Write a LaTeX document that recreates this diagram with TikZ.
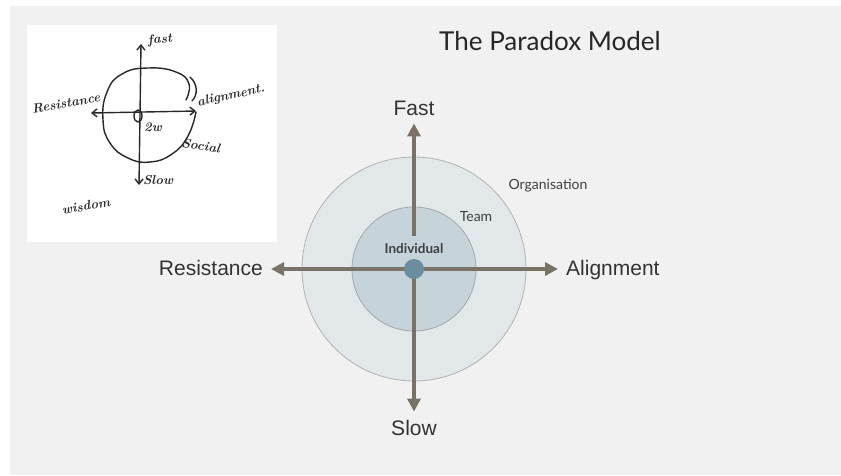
\documentclass[tikz,border=0pt]{standalone}
\usepackage{fontspec}
\setmainfont{Liberation Sans}
\newfontfamily\ringfont{Lato}
\newfontfamily\handfont{Latin Modern Roman}
\usetikzlibrary{arrows.meta}
\definecolor{slide}{RGB}{241,241,241}
\definecolor{axisbrown}{RGB}{122,114,102}
\definecolor{orgring}{RGB}{226,231,234}
\definecolor{teamring}{RGB}{199,211,218}
\definecolor{dotblue}{RGB}{104,142,160}
\definecolor{ink}{RGB}{40,40,40}

\tikzset{
 axis/.style={draw=axisbrown, line width=4pt, -{Triangle[length=13pt,width=13pt]}},
 axislabel/.style={font=\fontsize{21}{21}\selectfont, text=black!80, inner sep=8pt},
 ringlabel/.style={font=\ringfont\fontsize{14}{14}\selectfont, text=black!75, inner sep=0pt},
 sketch/.style={draw=ink, line width=1.4pt, line cap=round, line join=round},
 scribble/.style={font=\handfont\bfseries\itshape\fontsize{13}{13}\selectfont, text=ink, inner sep=0pt}
}

\begin{document}
\begin{tikzpicture}[x=1pt,y=-1pt]
 \path[use as bounding box] (0,0) rectangle (841,475);
\fill[white] (0,0) rectangle (841,475);
\fill[slide] (10,6) rectangle (841,475);
\fill[white] (27,25) rectangle (277,242);

% the sketch
\draw[sketch] plot[smooth, tension=0.8] coordinates {(186,100) (189,84) (176,72) (148,68) (122,74) (107,92) (103,120) (110,143) (128,158) (150,162) (172,154) (188,136) (196,112)};
\draw[sketch] (190,77) .. controls (198,84) and (198,95) .. (192,101);
\draw[sketch, {Straight Barb[length=5pt,width=8pt]}-{Straight Barb[length=5pt,width=8pt]}] (139,185) -- (141,44);
\draw[sketch, {Straight Barb[length=5pt,width=8pt]}-{Straight Barb[length=5pt,width=8pt]}] (91,113) -- (196,111);
\draw[sketch] (138,116) ellipse [x radius=4, y radius=6];
\foreach \pos/\ang/\txt [count=\i] in {(160,40)/5/fast, (66,103)/10/Resistance, (231,96)/12/alignment., (153,127)/0/2w, (201,146)/-8/Social, (158,180)/0/Slow, (86,206)/10/wisdom}
	\node[scribble, rotate=\ang] (scr\i) at \pos {\txt};

% the model
\filldraw[fill=orgring, draw=black!30, line width=0.8pt] (414,269) circle [radius=112];
\filldraw[fill=teamring, draw=black!35, line width=0.8pt] (414,269) circle [radius=62];
\coordinate (ctr) at (414,269);

\node[font=\ringfont\fontsize{26}{26}\selectfont, text=black!85, anchor=base] (title) at (550,50) {The Paradox Model};
\node[axislabel, anchor=base] (fast) at (414,115) {Fast};
\node[axislabel, anchor=base] (slow) at (414,435) {Slow};
\node[axislabel, anchor=base east] (resist) at (271,275) {Resistance};
\node[axislabel, anchor=base west] (align) at (558,275) {Alignment};
\node[ringlabel, font=\ringfont\bfseries\fontsize{13.5}{13.5}\selectfont, anchor=base, inner sep=7pt] (indiv) at (414,253) {Individual};
\node[ringlabel, anchor=base] (team) at (476,221) {Team};
\node[ringlabel, anchor=base] (org) at (548,189) {Organisation};

\draw[axis] (indiv.north) -- (fast.south);
\draw[axis] (ctr) -- (slow.north);
\draw[axis] (ctr) -- (ctr -| resist.east);
\draw[axis] (ctr) -- (ctr -| align.west);
\node[circle, fill=dotblue, minimum size=20pt, inner sep=0pt] (dot) at (ctr) {};

\end{tikzpicture}
\end{document}
